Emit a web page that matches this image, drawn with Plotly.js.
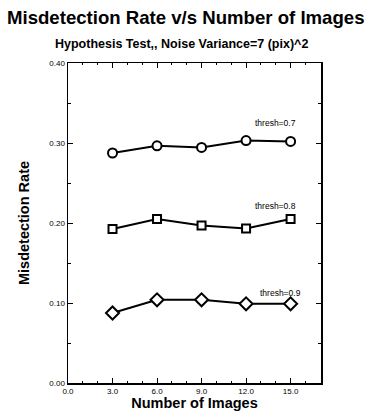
<!DOCTYPE html>
<html><head><meta charset="utf-8">
<script src="https://cdn.plot.ly/plotly-3.0.1.min.js"></script>
<style>html,body{margin:0;padding:0;background:#fff}#c{width:381px;height:411px}</style>
</head><body><div id="c"></div>
<script>
const numImages = [3, 6, 9, 12, 15];
const thresh07 = [0.2875, 0.2965, 0.2945, 0.303, 0.302];
const thresh08 = [0.1925, 0.205, 0.197, 0.193, 0.205];
const thresh09 = [0.0875, 0.104, 0.104, 0.099, 0.099];
const seriesLabels = ['thresh=0.7', 'thresh=0.8', 'thresh=0.9'];
const xTicks = [0, 3, 6, 9, 12, 15];
const xTickText = ['0.0', '3.0', '6.0', '9.0', '12.0', '15.0'];
const yTicks = [0, 0.1, 0.2, 0.3, 0.4];
const yTickText = ['0.00', '0.10', '0.20', '0.30', '0.40'];

const FONT = 'Liberation Sans, Arial, sans-serif';
function tr(y, sym, size) {
  return {x: numImages, y: y, mode: 'lines+markers', type: 'scatter',
    line: {color: '#000', width: 2},
    marker: {symbol: sym, size: size, color: '#fff', line: {color: '#000', width: 2}},
    showlegend: false, hoverinfo: 'none'};
}
const data = [tr(thresh07, 'circle', 9), tr(thresh08, 'square', 8), tr(thresh09, 'diamond', 10)];

const axCommon = {showgrid: false, zeroline: false, showline: true, linecolor: '#000', linewidth: 1.5,
  mirror: 'ticks', ticks: 'inside', ticklen: 5, tickcolor: '#000', tickwidth: 1,
  tickfont: {family: FONT, size: 8, color: '#000'}};

const layout = {
  width: 381, height: 411,
  margin: {l: 68, r: 60, t: 63, b: 28},
  paper_bgcolor: '#fff', plot_bgcolor: '#fff',
  xaxis: Object.assign({}, axCommon, {range: [0, 17.05], tickmode: 'array', tickvals: xTicks, ticktext: xTickText,
    minor: {dtick: 1, ticks: 'inside', ticklen: 2, tickcolor: '#000'},
    title: {text: '<b>Number of Images</b>', standoff: 0, font: {family: FONT, size: 14.5, color: '#000'}}}),
  yaxis: Object.assign({}, axCommon, {range: [0, 0.4], tickmode: 'array', tickvals: yTicks, ticktext: yTickText,
    minor: {tickvals: [0.05, 0.15, 0.25, 0.35], ticks: 'inside', ticklen: 3, tickcolor: '#000'},
    title: {text: '<b>Misdetection Rate</b>', standoff: 16, font: {family: FONT, size: 14.5, color: '#000'}}}),
  annotations: [
    {text: '<b>Misdetection Rate v/s Number of Images</b>', xref: 'paper', yref: 'paper', x: 0.465, y: 1.142, xanchor: 'center', yanchor: 'middle', showarrow: false,
      font: {family: FONT, size: 18.6, color: '#000'}},
    {text: '<b>Hypothesis Test,, Noise Variance=7 (pix)^2</b>', xref: 'paper', yref: 'paper', x: 0.45, y: 1.058, xanchor: 'center', yanchor: 'middle', showarrow: false,
      font: {family: FONT, size: 12.5, color: '#000'}},
    {text: seriesLabels[0], x: 14.0, y: 0.325, xref: 'x', yref: 'y', showarrow: false, font: {family: FONT, size: 8.5, color: '#000'}},
    {text: seriesLabels[1], x: 14.0, y: 0.221, xref: 'x', yref: 'y', showarrow: false, font: {family: FONT, size: 8.5, color: '#000'}},
    {text: seriesLabels[2], x: 14.3, y: 0.113, xref: 'x', yref: 'y', showarrow: false, font: {family: FONT, size: 8.5, color: '#000'}}
  ]
};
Plotly.newPlot('c', data, layout, {displayModeBar: false, staticPlot: true});
</script></body></html>
